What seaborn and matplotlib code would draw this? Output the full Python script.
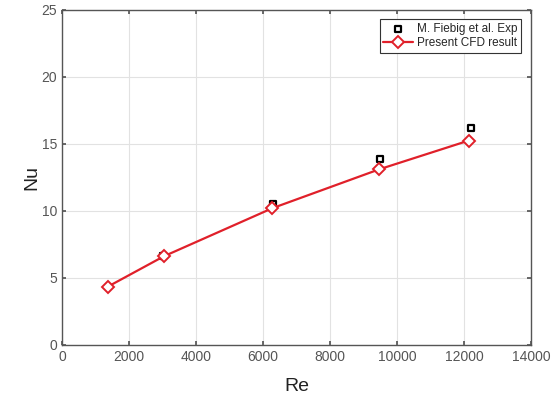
import matplotlib
matplotlib.use("Agg")
import matplotlib.pyplot as plt
import seaborn as sns
import pandas as pd

sns.set_theme(style="whitegrid")
plt.rcParams['font.family'] = ['Liberation Sans', 'DejaVu Sans']

# Experimental data (M. Fiebig et al.)
re_exp = [3000, 6300, 9500, 12200]
nu_exp = [6.6, 10.5, 13.9, 16.2]

# Present CFD result
re_cfd = [1370, 3030, 6280, 9470, 12150]
nu_cfd = [4.35, 6.6, 10.2, 13.1, 15.25]

exp_df = pd.DataFrame({"Re": re_exp, "Nu": nu_exp})
cfd_df = pd.DataFrame({"Re": re_cfd, "Nu": nu_cfd})

fig = plt.figure(figsize=(5.6, 3.95), dpi=100)
ax = fig.add_axes([0.111, 0.127, 0.837, 0.848])

sns.scatterplot(data=exp_df, x="Re", y="Nu", ax=ax, marker="s", s=22,
                facecolor="white", edgecolor="black", linewidth=1.6,
                label="M. Fiebig et al. Exp", zorder=3)
sns.lineplot(data=cfd_df, x="Re", y="Nu", ax=ax, color="#e0202a", lw=1.6,
             marker="D", markersize=6, markerfacecolor="white",
             markeredgecolor="#e0202a", markeredgewidth=1.4,
             label="Present CFD result", zorder=4)

ax.set_xlim(0, 14000)
ax.set_ylim(0, 25)
ax.set_xticks(range(0, 14001, 2000))
ax.set_yticks(range(0, 26, 5))
ax.grid(True, color="#e2e2e2", lw=0.8)
ax.set_facecolor("white")
for s in ax.spines.values():
    s.set_visible(True)
    s.set_color("#555555")
    s.set_linewidth(1.0)
ax.tick_params(axis="both", colors="#555555", labelsize=10, length=3,
               direction="in", labelcolor="#555555")
ax.tick_params(which="both", top=True, right=True, bottom=True, left=True)
ax.set_xlabel("Re", fontsize=14, color="#222222", labelpad=10)
ax.set_ylabel("Nu", fontsize=14, color="#222222", labelpad=1)

leg = ax.legend(loc="upper right", fontsize=8.5, frameon=True, fancybox=False,
                edgecolor="#333333", framealpha=1, borderpad=0.3,
                handlelength=2.5, handletextpad=0.4, labelspacing=0.2,
                borderaxespad=0.8)
leg.get_frame().set_linewidth(0.8)

fig.savefig("out.png", dpi=100)
